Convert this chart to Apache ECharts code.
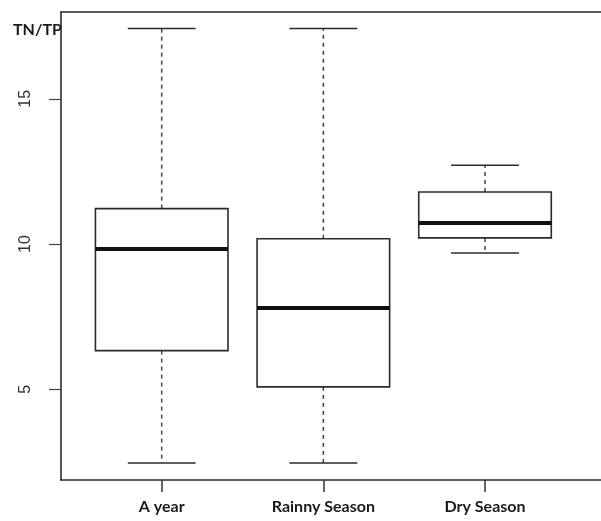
<!DOCTYPE html>
<html>
<head>
<meta charset="utf-8">
<script src="https://cdn.jsdelivr.net/npm/echarts@6/dist/echarts.min.js"></script>
<style>
html,body{margin:0;padding:0;background:#fff;overflow:hidden;}
#chart{width:601px;height:521px;}
</style>
</head>
<body>
<div id="chart"></div>
<script>
const categories = ['A year', 'Rainny Season', 'Dry Season'];
const whiskerLow = [2.46, 2.46, 9.69];
const q1 = [6.33, 5.08, 10.21];
const median = [9.83, 7.80, 10.72];
const q3 = [11.22, 10.18, 11.79];
const whiskerHigh = [17.42, 17.42, 12.71];
const yTicks = [5, 10, 15];
const xTicks = [1, 2, 3];

const data = categories.map((c, i) => [i + 1, whiskerLow[i], q1[i], median[i], q3[i], whiskerHigh[i]]);

const chart = echarts.init(document.getElementById('chart'), null, {renderer: 'canvas'});

function renderItem(params, api) {
  const x = api.value(0);
  const boxHalf = 0.41, capHalf = 0.21;
  const pLow = api.coord([x, api.value(1)]);
  const pQ1 = api.coord([x, api.value(2)]);
  const pMed = api.coord([x, api.value(3)]);
  const pQ3 = api.coord([x, api.value(4)]);
  const pHigh = api.coord([x, api.value(5)]);
  const bl = api.coord([x - boxHalf, api.value(2)])[0];
  const br = api.coord([x + boxHalf, api.value(2)])[0];
  const cl = api.coord([x - capHalf, api.value(2)])[0];
  const cr = api.coord([x + capHalf, api.value(2)])[0];
  const lineStyle = {stroke: '#2b2b2b', lineWidth: 1.6};
  const dashStyle = {stroke: '#444', lineWidth: 1.5, lineDash: [4, 4]};
  return {
    type: 'group',
    children: [
      {type: 'line', shape: {x1: pQ3[0], y1: pQ3[1], x2: pHigh[0], y2: pHigh[1]}, style: dashStyle},
      {type: 'line', shape: {x1: pQ1[0], y1: pQ1[1], x2: pLow[0], y2: pLow[1]}, style: dashStyle},
      {type: 'line', shape: {x1: cl, y1: pHigh[1], x2: cr, y2: pHigh[1]}, style: lineStyle},
      {type: 'line', shape: {x1: cl, y1: pLow[1], x2: cr, y2: pLow[1]}, style: lineStyle},
      {type: 'rect', shape: {x: bl, y: pQ3[1], width: br - bl, height: pQ1[1] - pQ3[1]}, style: {fill: '#fff', stroke: '#2b2b2b', lineWidth: 1.6}},
      {type: 'line', shape: {x1: bl, y1: pMed[1], x2: br, y2: pMed[1]}, style: {stroke: '#111', lineWidth: 4}}
    ]
  };
}

const xMin = 0.377, xMax = 0.377 + 550 / 161.65;
const frameLine = {show: true, lineStyle: {color: '#2b2b2b', width: 1.6}};

chart.setOption({
  animation: false,
  backgroundColor: '#fff',
  grid: {left: 61, top: 12, width: 550, height: 468, outerBoundsMode: 'none', containLabel: false, show: false},
  xAxis: [{
    type: 'value', min: xMin, max: xMax, position: 'bottom',
    splitLine: {show: false},
    axisLine: frameLine,
    axisTick: {show: true, customValues: xTicks, length: 12, lineStyle: {color: '#333', width: 1.5}},
    axisLabel: {
      customValues: xTicks, margin: 19,
      formatter: v => categories[Math.round(v) - 1] || '',
      fontFamily: 'Lato', fontWeight: 'bold', fontSize: 16, color: '#1a1a1a'
    }
  }, {
    type: 'value', min: xMin, max: xMax, position: 'top',
    splitLine: {show: false},
    axisLine: frameLine,
    axisTick: {show: false},
    axisLabel: {show: false}
  }],
  yAxis: {
    type: 'value', min: 1.873, max: 17.99,
    splitLine: {show: false},
    axisLine: frameLine,
    axisTick: {show: true, customValues: yTicks, length: 12, lineStyle: {color: '#444', width: 1.2}},
    axisLabel: {
      customValues: yTicks, rotate: 90, margin: 27,
      fontFamily: 'Liberation Sans', fontSize: 16, color: '#333'
    }
  },
  graphic: [{
    type: 'text', left: 13, top: 22,
    style: {text: 'TN/TP', font: 'bold 16px Lato', fill: '#1a1a1a'}
  }],
  series: [{
    type: 'custom',
    renderItem: renderItem,
    data: data,
    xAxisIndex: 0,
    encode: {x: 0, y: [1, 2, 3, 4, 5]},
    clip: false
  }]
});
</script>
</body>
</html>
